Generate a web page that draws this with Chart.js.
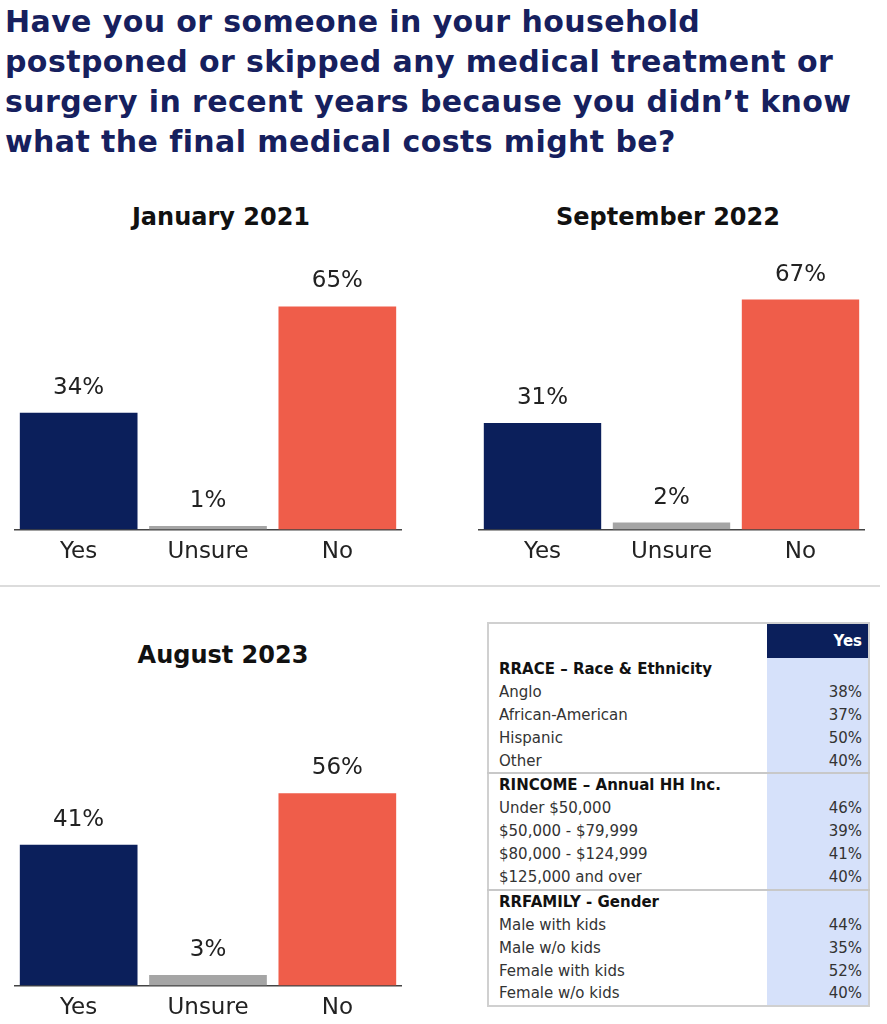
<!DOCTYPE html>
<html>
<head>
<meta charset="utf-8">
<script src="https://cdn.jsdelivr.net/npm/chart.js@4"></script>
<style>
  body { margin: 0; background: #fff; font-family: "DejaVu Sans", sans-serif; }
  #page { position: relative; width: 887px; height: 1024px; overflow: hidden; }
  #title { position: absolute; left: 5px; top: 2px; margin: 0; font-size: 30px; letter-spacing: 0.4px; line-height: 40px; font-weight: bold; color: #16205e; white-space: nowrap; }
  .panelTitle { position: absolute; font-size: 24px; font-weight: bold; color: #111; transform: translateX(-50%); white-space: nowrap; }
  canvas { position: absolute; }
  #divider { position: absolute; left: 0; top: 585px; width: 880px; height: 2px; background: #dcdcdc; }
  #breakdown { position: absolute; left: 487px; top: 622px; width: 383px; border-collapse: collapse; border: 2px solid #d0d0d0; font-size: 15px; line-height: 1; color: #333; }
  #breakdown td { padding: 0 6px 0 10px; height: 22.9px; white-space: nowrap; }
  #breakdown td.val { background: #d6e1fa; text-align: right; width: 89px; padding-right: 6px; padding-left: 6px; }
  #breakdown tr.head td { height: 34px; }
  #breakdown tr.head td.val { background: #0b1f5b; color: #fff; font-weight: bold; font-size: 15px; }
  #breakdown tr.section td { font-weight: bold; color: #111; }
  #breakdown tr.section.sep td { border-top: 2px solid #c8c8c8; }
</style>
</head>
<body>
<div id="page">
  <h1 id="title">Have you or someone in your household<br>postponed or skipped any medical treatment or<br>surgery in recent years because you didn’t know<br>what the final medical costs might be?</h1>

  <div class="panelTitle" style="left:221px; top:203px;">January 2021</div>
  <div class="panelTitle" style="left:668px; top:203px;">September 2022</div>
  <div class="panelTitle" style="left:223px; top:641px;">August 2023</div>

  <canvas id="jan2021" width="388" height="320" style="left:14px; top:255px;"></canvas>
  <canvas id="sep2022" width="387" height="320" style="left:478px; top:255px;"></canvas>
  <canvas id="aug2023" width="388" height="320" style="left:14px; top:711px;"></canvas>

  <div id="divider"></div>

  <table id="breakdown"></table>
</div>

<script>
// survey answers
const categories = ['Yes', 'Unsure', 'No'];
const jan2021 = [34, 1, 65];
const sep2022 = [31, 2, 67];
const aug2023 = [41, 3, 56];

// "Yes" breakdown, August 2023
const raceTitle = 'RRACE – Race & Ethnicity';
const raceLabels = ['Anglo', 'African-American', 'Hispanic', 'Other'];
const raceYes = [38, 37, 50, 40];

const incomeTitle = 'RINCOME – Annual HH Inc.';
const incomeLabels = ['Under $50,000', '$50,000 - $79,999', '$80,000 - $124,999', '$125,000 and over'];
const incomeYes = [46, 39, 41, 40];

const familyTitle = 'RRFAMILY - Gender';
const familyLabels = ['Male with kids', 'Male w/o kids', 'Female with kids', 'Female w/o kids'];
const familyYes = [44, 35, 52, 40];

const barColors = ['#0b1f5b', '#a5a5a5', '#ef5d4a'];

const valueLabels = {
	id: 'valueLabels',
	afterDatasetsDraw(chart) {
		const ctx = chart.ctx;
		const values = chart.data.datasets[0].data;
		ctx.save();
		ctx.font = '23px "DejaVu Sans"';
		ctx.fillStyle = '#222';
		ctx.textAlign = 'center';
		ctx.textBaseline = 'middle';
		chart.getDatasetMeta(0).data.forEach((bar, i) => {
			ctx.fillText(values[i] + '%', bar.x, bar.y - 25);
		});
		ctx.restore();
	},
};

function drawPanel(id, values) {
	const ctx = document.getElementById(id).getContext('2d');
	new Chart(ctx, {
		type: 'bar',
		data: {
			labels: categories,
			datasets: [
				{
					data: values,
					backgroundColor: barColors,
					borderWidth: 0,
					barPercentage: 0.91,
					categoryPercentage: 1,
				},
			],
		},
		options: {
			responsive: false,
			animation: false,
			layout: { padding: 0 },
			scales: {
				x: {
					grid: { display: false, drawTicks: false },
					border: { display: true, color: '#444', width: 1.5 },
					ticks: {
						padding: 9,
						color: '#222',
						font: { family: 'DejaVu Sans', size: 23 },
					},
				},
				y: {
					display: false,
					min: 0,
					max: 80,
				},
			},
			plugins: {
				legend: { display: false },
				tooltip: { enabled: false },
			},
		},
		plugins: [valueLabels],
	});
}

drawPanel('jan2021', jan2021);
drawPanel('sep2022', sep2022);
drawPanel('aug2023', aug2023);

// breakdown table
function addSection(table, title, labels, values, sep) {
	const head = table.insertRow();
	head.className = sep ? 'section sep' : 'section';
	head.insertCell().textContent = title;
	head.insertCell().className = 'val';
	labels.forEach((label, i) => {
		const row = table.insertRow();
		row.insertCell().textContent = label;
		const cell = row.insertCell();
		cell.className = 'val';
		cell.textContent = values[i] + '%';
	});
}

const table = document.getElementById('breakdown');
const headRow = table.insertRow();
headRow.className = 'head';
headRow.insertCell();
const headCell = headRow.insertCell();
headCell.className = 'val';
headCell.textContent = 'Yes';
addSection(table, raceTitle, raceLabels, raceYes, false);
addSection(table, incomeTitle, incomeLabels, incomeYes, true);
addSection(table, familyTitle, familyLabels, familyYes, true);
</script>
</body>
</html>
